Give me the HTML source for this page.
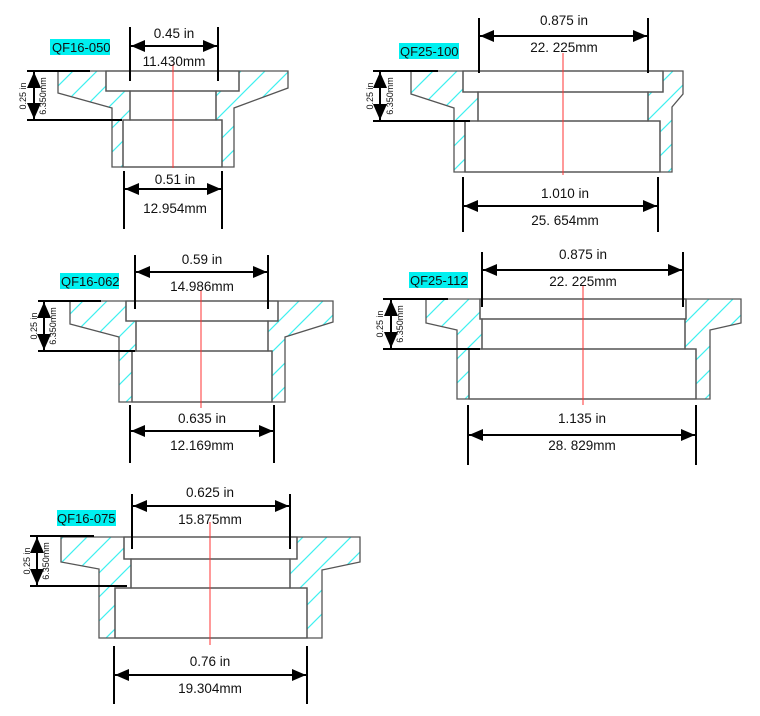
<!DOCTYPE html>
<html><head><meta charset="utf-8"><style>
html,body{margin:0;padding:0;background:#fff;}
svg{display:block;}
text{font-family:"Liberation Sans",Arial,sans-serif;fill:#111;}
.d{font-size:13.5px;text-anchor:middle;}
.s{font-size:9px;text-anchor:middle;}
.lb{font-size:13px;}
.part{fill:url(#h);fill-rule:evenodd;stroke:#555;stroke-width:1.3;}
.r{fill:none;stroke:#555;stroke-width:1.3;}
.dim{stroke:#000;stroke-width:2;fill:none;}
.c{stroke:#f33;stroke-width:1;}
</style></head><body>
<svg width="760" height="716" viewBox="0 0 760 716" xmlns="http://www.w3.org/2000/svg">
<defs>
<pattern id="h" patternUnits="userSpaceOnUse" width="24" height="24">
<line x1="0" y1="24" x2="24" y2="0" stroke="#3ef0f0" stroke-width="1.2"/>
<line x1="-6" y1="6" x2="6" y2="-6" stroke="#3ef0f0" stroke-width="1.2"/>
<line x1="18" y1="30" x2="30" y2="18" stroke="#3ef0f0" stroke-width="1.2"/>
</pattern>
<marker id="a" markerWidth="14" markerHeight="12" refX="14" refY="6" orient="auto-start-reverse" markerUnits="userSpaceOnUse"><path d="M0,0 L14,6 L0,12 Z" fill="#000"/></marker>
<marker id="b" markerWidth="16" markerHeight="14" refX="16" refY="7" orient="auto-start-reverse" markerUnits="userSpaceOnUse"><path d="M0,0 L16,7 L0,14 Z" fill="#000"/></marker>
</defs>

<!-- QF16-050 -->
<path class="part" d="M58,71 L288,71 L288,88 L234,108 L234,167 L112,167 L112,108 L58,93 Z M106,71 L239,71 L239,91 L216,91 L216,120 L222,120 L222,167 L123,167 L123,120 L130,120 L130,91 L106,91 Z"/>
<rect class="r" x="106" y="71" width="133" height="20"/><rect class="r" x="130" y="91" width="86" height="29"/><rect class="r" x="123" y="120" width="99" height="47"/>
<line class="c" x1="173" y1="64" x2="173" y2="168"/>
<rect x="50" y="39" width="60" height="16" fill="#00f0f0"/><text class="lb" x="52" y="52">QF16-050</text>
<line class="dim" x1="130" y1="27" x2="130" y2="81"/><line class="dim" x1="218" y1="27" x2="218" y2="81"/>
<line class="dim" x1="131" y1="46" x2="217" y2="46" marker-start="url(#a)" marker-end="url(#a)"/>
<text class="d" x="174" y="38">0.45 in</text><text class="d" x="174" y="66">11.430mm</text>
<line class="dim" x1="124" y1="171" x2="124" y2="229"/><line class="dim" x1="222" y1="171" x2="222" y2="229"/>
<line class="dim" x1="125" y1="189" x2="221" y2="189" marker-start="url(#a)" marker-end="url(#a)"/>
<text class="d" x="175" y="184">0.51 in</text><text class="d" x="175" y="213">12.954mm</text>
<line class="dim" x1="27" y1="71" x2="90" y2="71"/><line class="dim" x1="27" y1="120" x2="122" y2="120"/>
<line class="dim" x1="34" y1="72" x2="34" y2="119" marker-start="url(#b)" marker-end="url(#b)"/>
<text class="s" transform="translate(26,96) rotate(-90)">0.25 in</text><text class="s" transform="translate(46,96) rotate(-90)">6.350mm</text>

<!-- QF25-100 -->
<path class="part" d="M411,71 L683,71 L683,94 L672,107 L672,172 L454,172 L454,108 L411,94 Z M463,71 L663,71 L663,92 L648,92 L648,121 L660,121 L660,172 L465,172 L465,121 L478,121 L478,92 L463,92 Z"/>
<rect class="r" x="463" y="71" width="200" height="21"/><rect class="r" x="478" y="92" width="170" height="29"/><rect class="r" x="465" y="121" width="195" height="51"/>
<line class="c" x1="563" y1="53" x2="563" y2="175"/>
<rect x="399" y="43" width="60" height="16" fill="#00f0f0"/><text class="lb" x="400" y="56">QF25-100</text>
<line class="dim" x1="479" y1="18" x2="479" y2="73"/><line class="dim" x1="648" y1="18" x2="648" y2="73"/>
<line class="dim" x1="480" y1="36" x2="647" y2="36" marker-start="url(#a)" marker-end="url(#a)"/>
<text class="d" x="564" y="25">0.875 in</text><text class="d" x="564" y="52">22. 225mm</text>
<line class="dim" x1="463" y1="177" x2="463" y2="232"/><line class="dim" x1="658" y1="177" x2="658" y2="232"/>
<line class="dim" x1="464" y1="206" x2="657" y2="206" marker-start="url(#a)" marker-end="url(#a)"/>
<text class="d" x="565" y="198">1.010 in</text><text class="d" x="565" y="225">25. 654mm</text>
<line class="dim" x1="373" y1="71" x2="438" y2="71"/><line class="dim" x1="373" y1="121" x2="470" y2="121"/>
<line class="dim" x1="380" y1="72" x2="380" y2="120" marker-start="url(#b)" marker-end="url(#b)"/>
<text class="s" transform="translate(373,96) rotate(-90)">0.25 in</text><text class="s" transform="translate(393,96) rotate(-90)">6.350mm</text>

<!-- QF16-062 -->
<path class="part" d="M70,301 L333,301 L333,322 L285,337 L285,402 L119,402 L119,337 L70,324 Z M126,301 L278,301 L278,321 L268,321 L268,351 L272,351 L272,402 L132,402 L132,351 L136,351 L136,321 L126,321 Z"/>
<rect class="r" x="126" y="301" width="152" height="20"/><rect class="r" x="136" y="321" width="132" height="30"/><rect class="r" x="132" y="351" width="140" height="51"/>
<line class="c" x1="201" y1="290" x2="201" y2="408"/>
<rect x="60" y="273" width="59" height="16" fill="#00f0f0"/><text class="lb" x="61" y="286">QF16-062</text>
<line class="dim" x1="135" y1="255" x2="135" y2="309"/><line class="dim" x1="268" y1="255" x2="268" y2="309"/>
<line class="dim" x1="136" y1="272" x2="267" y2="272" marker-start="url(#a)" marker-end="url(#a)"/>
<text class="d" x="202" y="264">0.59 in</text><text class="d" x="202" y="291">14.986mm</text>
<line class="dim" x1="130" y1="405" x2="130" y2="463"/><line class="dim" x1="274" y1="405" x2="274" y2="463"/>
<line class="dim" x1="131" y1="431" x2="273" y2="431" marker-start="url(#a)" marker-end="url(#a)"/>
<text class="d" x="202" y="423">0.635 in</text><text class="d" x="202" y="450">12.169mm</text>
<line class="dim" x1="38" y1="301" x2="101" y2="301"/><line class="dim" x1="38" y1="351" x2="135" y2="351"/>
<line class="dim" x1="44" y1="302" x2="44" y2="350" marker-start="url(#b)" marker-end="url(#b)"/>
<text class="s" transform="translate(37,326) rotate(-90)">0.25 in</text><text class="s" transform="translate(56,326) rotate(-90)">6.350mm</text>

<!-- QF25-112 -->
<path class="part" d="M426,299 L741,299 L741,323 L710,330 L710,399 L457,399 L457,330 L426,323 Z M480,299 L686,299 L686,319 L685,319 L685,349 L696,349 L696,399 L469,399 L469,349 L482,349 L482,319 L480,319 Z"/>
<rect class="r" x="480" y="299" width="206" height="20"/><rect class="r" x="482" y="319" width="203" height="30"/><rect class="r" x="469" y="349" width="227" height="50"/>
<line class="c" x1="583" y1="285" x2="583" y2="405"/>
<rect x="409" y="272" width="59" height="16" fill="#00f0f0"/><text class="lb" x="410" y="285">QF25-112</text>
<line class="dim" x1="482" y1="252" x2="482" y2="307"/><line class="dim" x1="683" y1="252" x2="683" y2="307"/>
<line class="dim" x1="483" y1="270" x2="682" y2="270" marker-start="url(#a)" marker-end="url(#a)"/>
<text class="d" x="583" y="259">0.875 in</text><text class="d" x="583" y="286">22. 225mm</text>
<line class="dim" x1="468" y1="405" x2="468" y2="465"/><line class="dim" x1="696" y1="405" x2="696" y2="465"/>
<line class="dim" x1="469" y1="435" x2="695" y2="435" marker-start="url(#a)" marker-end="url(#a)"/>
<text class="d" x="582" y="423">1.135 in</text><text class="d" x="582" y="450">28. 829mm</text>
<line class="dim" x1="383" y1="299" x2="448" y2="299"/><line class="dim" x1="383" y1="349" x2="480" y2="349"/>
<line class="dim" x1="391" y1="300" x2="391" y2="348" marker-start="url(#b)" marker-end="url(#b)"/>
<text class="s" transform="translate(383,324) rotate(-90)">0.25 in</text><text class="s" transform="translate(403,324) rotate(-90)">6.350mm</text>

<!-- QF16-075 -->
<path class="part" d="M61,537 L360,537 L360,562 L322,570 L322,638 L99,638 L99,569 L61,562 Z M124,537 L297,537 L297,559 L290,559 L290,588 L307,588 L307,638 L115,638 L115,588 L131,588 L131,559 L124,559 Z"/>
<rect class="r" x="124" y="537" width="173" height="22"/><rect class="r" x="131" y="559" width="159" height="29"/><rect class="r" x="115" y="588" width="192" height="50"/>
<line class="c" x1="210" y1="522" x2="210" y2="645"/>
<rect x="57" y="510" width="59" height="16" fill="#00f0f0"/><text class="lb" x="57" y="523">QF16-075</text>
<line class="dim" x1="132" y1="494" x2="132" y2="549"/><line class="dim" x1="290" y1="494" x2="290" y2="549"/>
<line class="dim" x1="133" y1="506" x2="289" y2="506" marker-start="url(#a)" marker-end="url(#a)"/>
<text class="d" x="210" y="497">0.625 in</text><text class="d" x="210" y="524">15.875mm</text>
<line class="dim" x1="114" y1="646" x2="114" y2="704"/><line class="dim" x1="307" y1="646" x2="307" y2="704"/>
<line class="dim" x1="115" y1="675" x2="306" y2="675" marker-start="url(#a)" marker-end="url(#a)"/>
<text class="d" x="210" y="666">0.76 in</text><text class="d" x="210" y="693">19.304mm</text>
<line class="dim" x1="30" y1="536" x2="94" y2="536"/><line class="dim" x1="30" y1="586" x2="127" y2="586"/>
<line class="dim" x1="37" y1="537" x2="37" y2="585" marker-start="url(#b)" marker-end="url(#b)"/>
<text class="s" transform="translate(30,561) rotate(-90)">0.25 in</text><text class="s" transform="translate(49,561) rotate(-90)">6.350mm</text>
</svg>
</body></html>
